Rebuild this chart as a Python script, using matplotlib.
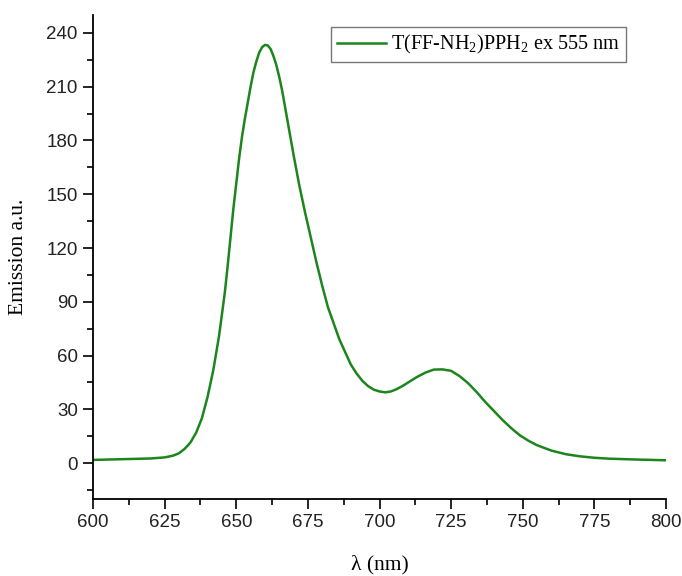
import matplotlib
matplotlib.use("Agg")
import matplotlib.pyplot as plt
from matplotlib.ticker import MultipleLocator

# Emission spectrum (excitation 555 nm)
wavelength = [600, 605, 610, 615, 620, 625, 628, 630, 632, 634, 636, 638, 640,
              642, 644, 646, 647, 648, 649, 650, 651, 652, 653, 654, 655, 656,
              657, 658, 659, 660, 661, 662, 663, 664, 665, 666,
              668, 670, 672, 674, 676, 678, 680, 682, 684, 686, 688, 690, 692,
              694, 696, 698, 700, 702, 704, 706, 708, 710, 713, 716, 719, 722,
              725, 728, 731, 734, 737, 740, 743, 746, 749, 752, 755, 760, 765,
              770, 775, 780, 790, 800]
emission = [1.8, 2.0, 2.2, 2.4, 2.6, 3.2, 4.2, 5.5, 8, 11.5, 17, 25, 37,
            52, 71, 95, 110, 126, 142, 156, 170, 182, 192, 201, 210, 218,
            224, 229, 232, 233.3, 233, 231, 227, 222, 215.5, 208,
            190, 172, 155, 140, 126, 112, 99, 87, 78, 69, 62, 55, 50,
            46, 43, 41, 40, 39.5, 40, 41.3, 43, 45, 48, 50.5, 52.2, 52.3,
            51.5, 48.5, 44.5, 39.5, 34, 29, 24, 19.5, 15.5, 12.5, 10, 7, 5,
            3.8, 3, 2.5, 2, 1.6]

series_label = r"T(FF-NH$_2$)PPH$_2$ ex 555 nm"
x_ticks = [600, 625, 650, 675, 700, 725, 750, 775, 800]
y_ticks = [0, 30, 60, 90, 120, 150, 180, 210, 240]

serif = ["Liberation Serif", "DejaVu Serif"]
sans = ["Liberation Sans", "DejaVu Sans"]
plt.rcParams["mathtext.fontset"] = "custom"
plt.rcParams["mathtext.rm"] = "Liberation Serif"
plt.rcParams["mathtext.it"] = "Liberation Serif:italic"

fig = plt.figure(figsize=(6.82, 5.76), dpi=100)
ax = fig.add_axes([93 / 682, 1 - 499 / 576, (666 - 93) / 682, (499 - 15) / 576])

ax.plot(wavelength, emission, color="#1c851c", lw=1.8, label=series_label,
        solid_joinstyle="round")

ax.set_xlim(600, 800)
ax.set_ylim(-20, 250)
ax.set_xticks(x_ticks)
ax.set_yticks(y_ticks)
ax.xaxis.set_minor_locator(MultipleLocator(12.5))
ax.yaxis.set_minor_locator(MultipleLocator(15))

for side in ("top", "right"):
    ax.spines[side].set_visible(False)
for side in ("left", "bottom"):
    ax.spines[side].set_linewidth(1.3)

ax.tick_params(which="major", direction="out", length=7, width=1.2,
               labelsize=13.5, pad=4)
ax.tick_params(which="minor", direction="out", length=4, width=1.2)
for lab in ax.get_xticklabels() + ax.get_yticklabels():
    lab.set_family(sans)
    lab.set_color("#222222")

ax.set_ylabel("Emission a.u.", family=serif, fontsize=15.5, labelpad=13)
ax.set_xlabel("λ (nm)", family=serif, fontsize=15.5, labelpad=17)

leg = ax.legend(loc="upper left", bbox_to_anchor=(331 / 682, 1 - 27 / 576),
                bbox_transform=fig.transFigure, borderaxespad=0,
                frameon=True, fancybox=False, edgecolor="#555555",
                prop={"family": serif, "size": 14.6}, handlelength=2.4,
                handletextpad=0.25, borderpad=0.3)
leg.get_frame().set_linewidth(1.0)

fig.savefig("out.png", dpi=100)
